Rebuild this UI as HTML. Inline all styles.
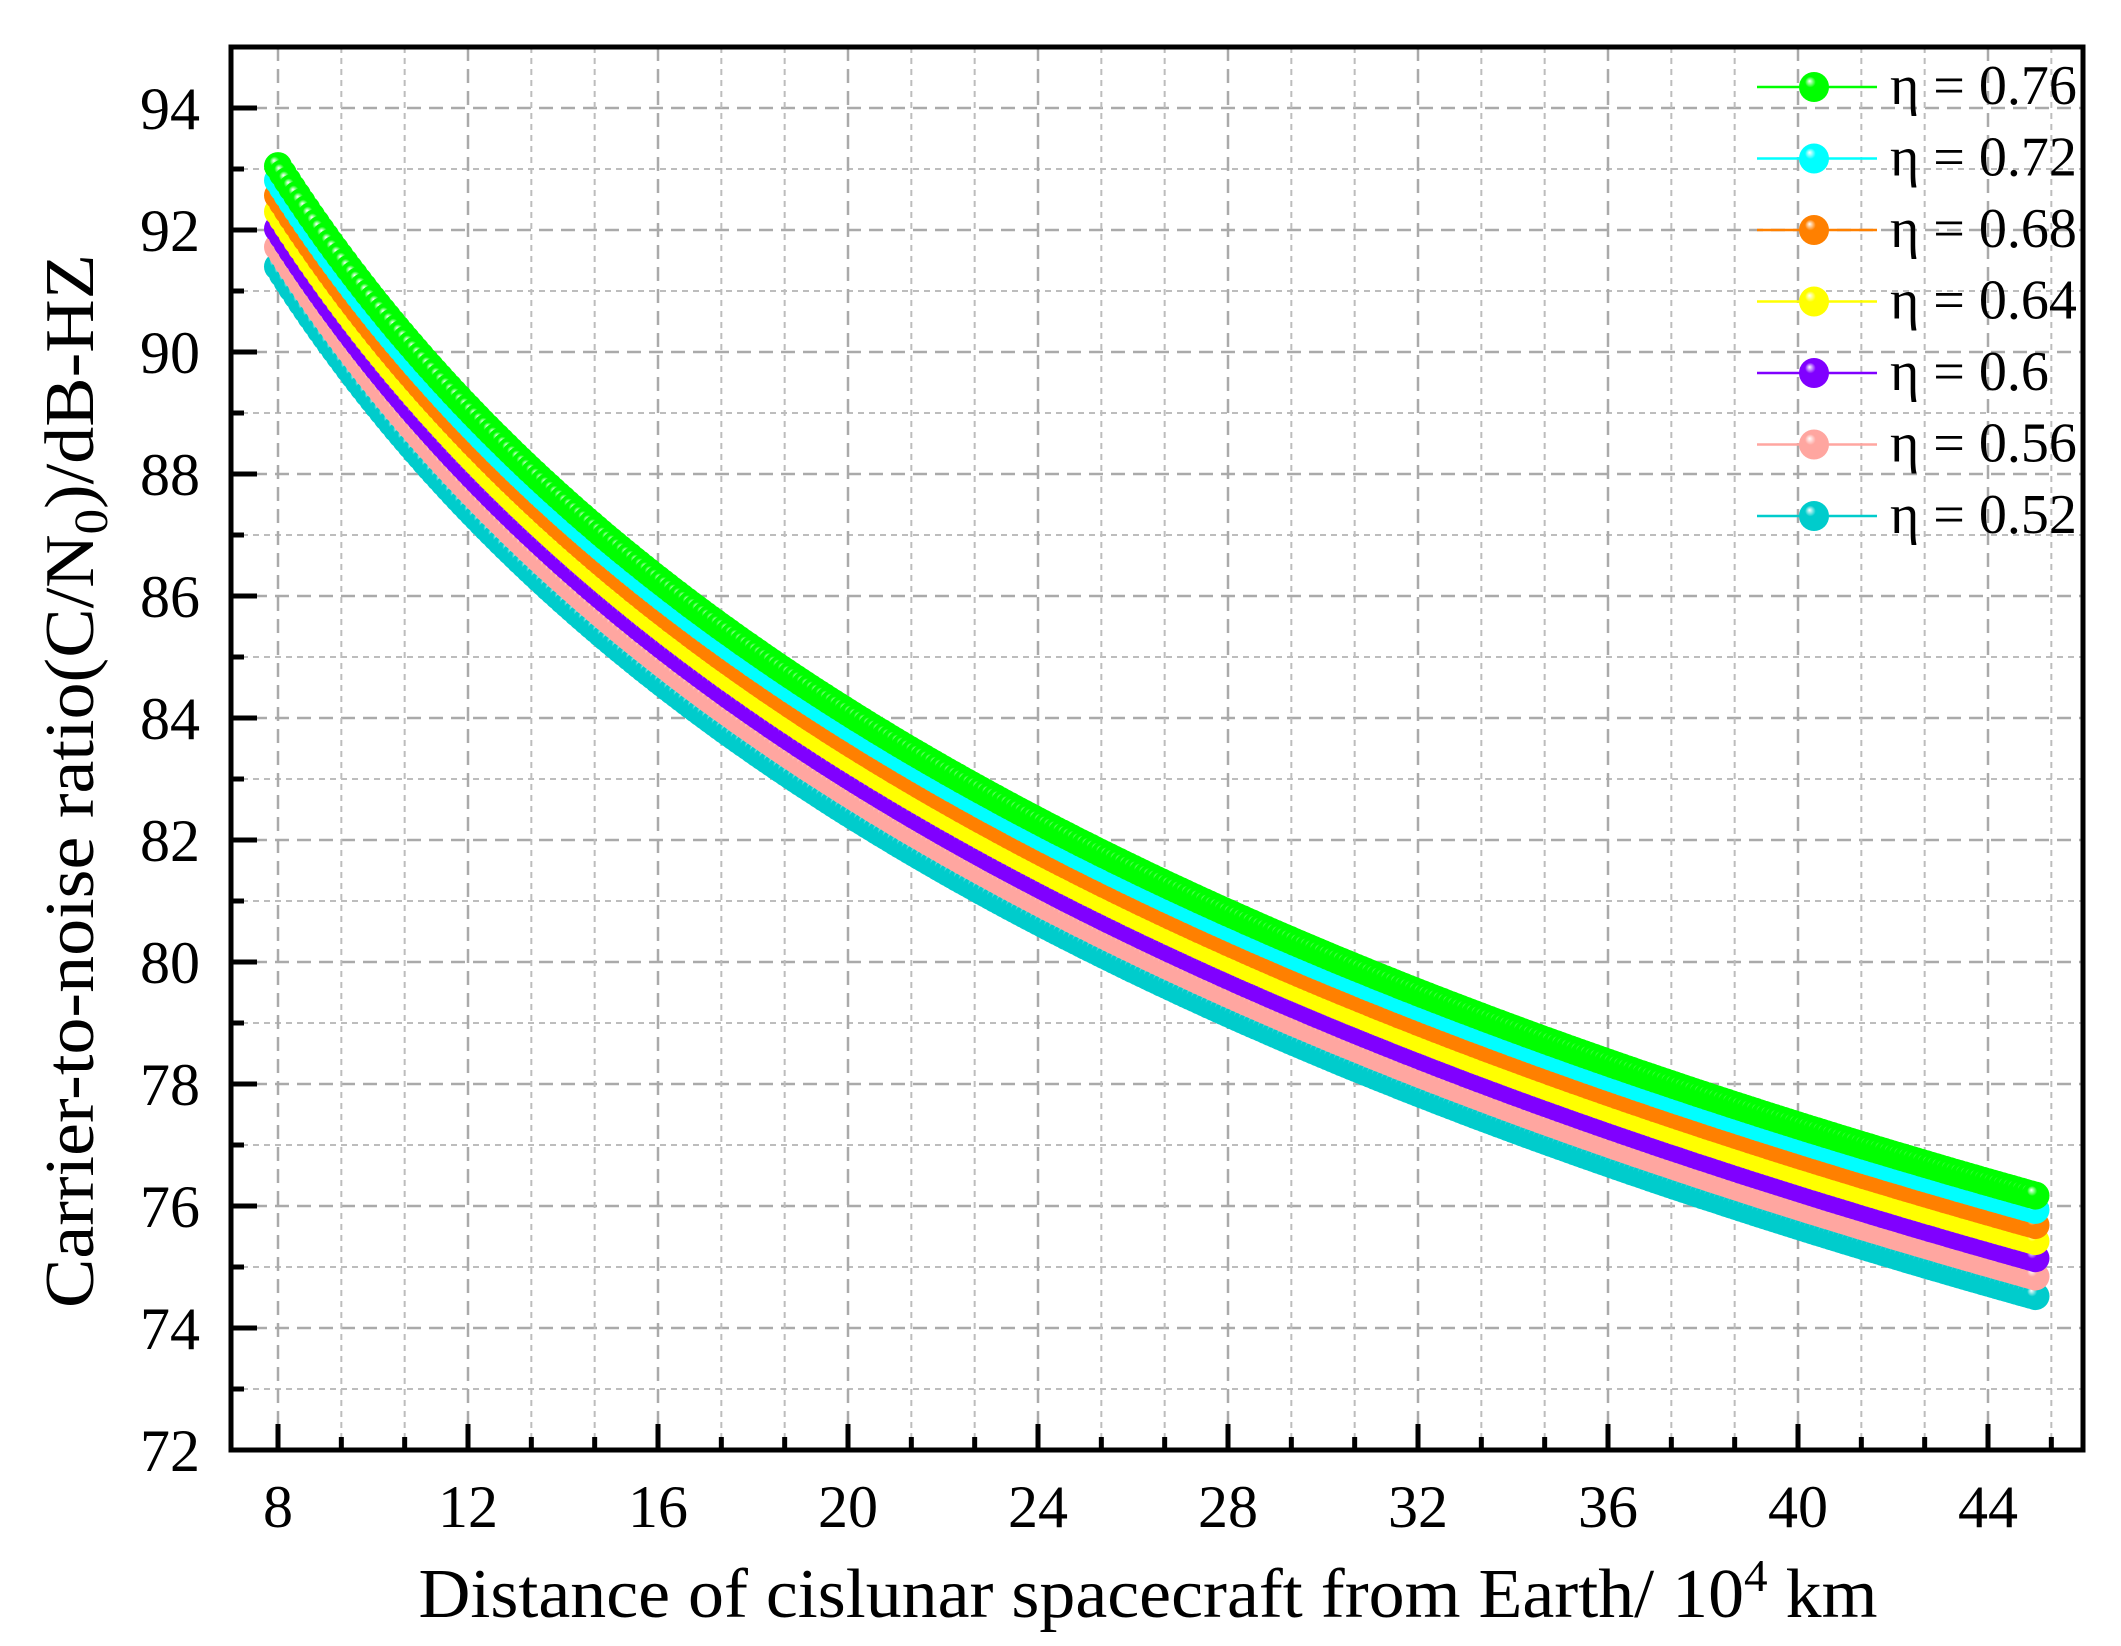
<!DOCTYPE html>
<html><head><meta charset="utf-8"><style>
html,body{margin:0;padding:0;background:#fff;}
svg{display:block;}
text{font-family:"Liberation Serif",serif;fill:#000;}
</style></head><body>
<svg id="s" xmlns="http://www.w3.org/2000/svg" width="2121" height="1646" viewBox="0 0 2121 1646">
<defs id="d"></defs>
<g id="grid"></g>
<g id="curves"></g>
<g id="axes"></g>
<g id="leg"></g>
<text x="1148" y="1617" font-size="70" text-anchor="middle" textLength="1459" lengthAdjust="spacingAndGlyphs">Distance of cislunar spacecraft from Earth/ 10<tspan dy="-26" font-size="46">4</tspan><tspan dy="26"> km</tspan></text>
<text transform="translate(93,781) rotate(-90)" font-size="70" text-anchor="middle" textLength="1054" lengthAdjust="spacingAndGlyphs">Carrier-to-noise ratio(C/N<tspan dy="14" font-size="48">0</tspan><tspan dy="-14">)/dB-HZ</tspan></text>
</svg>
<script>
var NS="http://www.w3.org/2000/svg";
function el(p,t,a){var e=document.createElementNS(NS,t);for(var k in a)e.setAttribute(k,a[k]);p.appendChild(e);return e;}
var L=231,R=2083,T=47,B=1450;
function X(v){return 278+(v-8)*47.5;}
function Y(v){return B-(v-72)*(B-T)/23;}
var g=document.getElementById('grid');
for(var v=73;v<=94;v++){var maj=v%2==0;
 el(g,'line',{x1:L,x2:R,y1:Y(v),y2:Y(v),stroke:maj?'#aaaaaa':'#bdbdbd','stroke-width':maj?2.5:2,'stroke-dasharray':maj?'14,8':'6,5'});}
for(var k=0;k<=28;k++){var v=8+k*4/3;var maj=k%3==0;if(X(v)>R-3)break;
 el(g,'line',{x1:X(v),x2:X(v),y1:T,y2:B,stroke:maj?'#aaaaaa':'#bdbdbd','stroke-width':maj?2.5:2,'stroke-dasharray':maj?'14,8':'6,5'});}
var S=[[0.52,'#00cccc'],[0.56,'#ffa6a0'],[0.6,'#8000ff'],[0.64,'#ffff00'],[0.68,'#ff8000'],[0.72,'#00ffff'],[0.76,'#00ff00']];
var d=document.getElementById('d');
S.forEach(function(s,i){var rg=el(d,'radialGradient',{id:'g'+i,cx:'0.45',cy:'0.42',r:'0.6',fx:'0.35',fy:'0.3'});
 el(rg,'stop',{offset:'0',"stop-color":'#ffffff'});el(rg,'stop',{offset:'0.3',"stop-color":s[1]});el(rg,'stop',{offset:'1',"stop-color":s[1]});});
var c=document.getElementById('curves');
S.forEach(function(s,i){var A=94.24;var gg=el(c,'g',{});
 for(var x=8;x<=45.001;x+=0.1){var y=A+10*Math.log10(s[0])-22.5*Math.log10(x/8);
  el(gg,'circle',{cx:X(x).toFixed(1),cy:Y(y).toFixed(1),r:14,fill:'url(#g'+i+')'});}
});
var a=document.getElementById('axes');
el(a,'rect',{x:L,y:T,width:R-L,height:B-T,fill:'none',stroke:'#000','stroke-width':5});
for(var v=73;v<=94;v++){var maj=v%2==0;el(a,'line',{x1:L,x2:L+(maj?26:13),y1:Y(v),y2:Y(v),stroke:'#000','stroke-width':5});}
for(var v=72;v<=94;v+=2){var t=el(a,'text',{x:200,y:Y(v)+21,'font-size':60,'text-anchor':'end'});t.textContent=v;}
for(var k=0;k<=28;k++){var v=8+k*4/3;var maj=k%3==0;if(X(v)>R-3)break;
 el(a,'line',{x1:X(v),x2:X(v),y1:B,y2:B-(maj?26:13),stroke:'#000','stroke-width':5});
 if(maj){var t=el(a,'text',{x:X(v),y:1527,'font-size':60,'text-anchor':'middle'});t.textContent=Math.round(v);}}
var lg=document.getElementById('leg');
var labs=['0.76','0.72','0.68','0.64','0.6','0.56','0.52'];
for(var j=0;j<7;j++){var i=6-j;var cy=87+j*71.5;
 el(lg,'line',{x1:1757,x2:1877,y1:cy,y2:cy,stroke:S[i][1],'stroke-width':2.5});
 el(lg,'circle',{cx:1814,cy:cy,r:15,fill:'url(#g'+i+')'});
 var t=el(lg,'text',{x:1890,y:cy+17,'font-size':56});t.textContent='\u03b7 = '+labs[j];}
</script>
</body></html>
